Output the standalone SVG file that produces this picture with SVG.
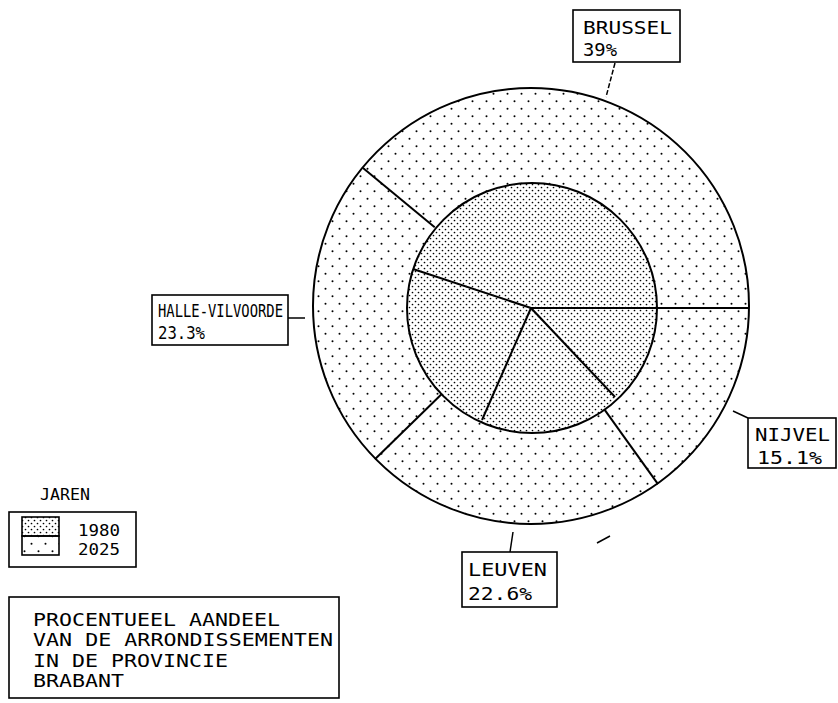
<svg xmlns="http://www.w3.org/2000/svg" width="838" height="703" viewBox="0 0 838 703">
<defs>
<pattern id="sparse" patternUnits="userSpaceOnUse" width="14" height="15">
<circle cx="3.5" cy="3.75" r="1"/>
<circle cx="10.5" cy="11.25" r="1"/>
</pattern>
<pattern id="dense" patternUnits="userSpaceOnUse" width="6" height="6">
<circle cx="1.5" cy="1.5" r="0.85"/>
<circle cx="4.5" cy="4.5" r="0.85"/>
</pattern>
</defs>
<style>
.t{font-family:"DejaVu Sans Mono","Liberation Mono",monospace;font-size:17px;fill:#000}
.box{fill:#fff;stroke:#000;stroke-width:1.6}
.edge{fill:none;stroke:#000;stroke-width:2}
.con{fill:none;stroke:#000;stroke-width:1.5}
</style>
<rect width="838" height="703" fill="#fff"/>
<g id="pie-2025">
<circle cx="531" cy="306" r="218" fill="url(#sparse)" stroke="#000" stroke-width="2"/>
<line class="edge" x1="434.7" y1="227.3" x2="363" y2="168"/>
<line class="edge" x1="441.5" y1="394.3" x2="374.9" y2="459.2"/>
<line class="edge" x1="603.8" y1="408.6" x2="658" y2="484.2"/>
<line class="edge" x1="531" y1="308" x2="749" y2="308"/>
</g>
<g id="pie-1980">
<circle cx="532" cy="308" r="125" fill="#fff" stroke="none"/>
<circle cx="532" cy="308" r="125" fill="url(#dense)" stroke="#000" stroke-width="2"/>
<line class="edge" x1="531" y1="308" x2="413" y2="269"/>
<line class="edge" x1="531" y1="308" x2="482" y2="420"/>
<line class="edge" x1="531" y1="308" x2="615" y2="397"/>
<line class="edge" x1="531" y1="308" x2="749" y2="308"/>
</g>
<g id="connectors">
<line class="con" x1="615" y1="63" x2="606" y2="97" stroke-dasharray="5 2"/>
<line class="con" x1="288" y1="318" x2="305" y2="318"/>
<line class="con" x1="733" y1="411" x2="748" y2="418"/>
<line class="con" x1="513" y1="532" x2="510" y2="552"/>
</g>
<line class="con" x1="597" y1="543" x2="610" y2="536"/>
<g id="label-brussel">
<rect class="box" x="573" y="10" width="107" height="52"/>
<text class="t" x="583" y="34" textLength="89" lengthAdjust="spacingAndGlyphs">BRUSSEL</text>
<text class="t" x="583" y="56" textLength="34" lengthAdjust="spacingAndGlyphs">39%</text>
</g>
<g id="label-halle">
<rect class="box" x="152" y="295" width="136" height="50"/>
<text class="t" x="158" y="317" textLength="125" lengthAdjust="spacingAndGlyphs">HALLE-VILVOORDE</text>
<text class="t" x="158" y="339" textLength="47" lengthAdjust="spacingAndGlyphs">23.3%</text>
</g>
<g id="label-nijvel">
<rect class="box" x="748" y="418" width="88" height="50"/>
<text class="t" x="755" y="441" textLength="75" lengthAdjust="spacingAndGlyphs">NIJVEL</text>
<text class="t" x="757" y="464" textLength="65" lengthAdjust="spacingAndGlyphs">15.1%</text>
</g>
<g id="label-leuven">
<rect class="box" x="462" y="552" width="95" height="55"/>
<text class="t" x="468" y="576" textLength="79" lengthAdjust="spacingAndGlyphs">LEUVEN</text>
<text class="t" x="468" y="600" textLength="64" lengthAdjust="spacingAndGlyphs">22.6%</text>
</g>
<g id="legend">
<text class="t" x="40" y="500" style="font-size:15px" textLength="50" lengthAdjust="spacingAndGlyphs">JAREN</text>
<rect class="box" x="9" y="512" width="127" height="55"/>
<rect x="22" y="517" width="37" height="19" fill="url(#dense)" stroke="#000" stroke-width="1.6"/>
<rect x="22" y="536" width="37" height="19" fill="url(#sparse)" stroke="#000" stroke-width="1.6"/>
<text class="t" x="78" y="536" style="font-size:16px" textLength="42" lengthAdjust="spacingAndGlyphs">1980</text>
<text class="t" x="78" y="555" style="font-size:16px" textLength="42" lengthAdjust="spacingAndGlyphs">2025</text>
</g>
<g id="title">
<rect class="box" x="9" y="597" width="330" height="101"/>
<text class="t" x="33" y="626" textLength="247" lengthAdjust="spacingAndGlyphs">PROCENTUEEL AANDEEL</text>
<text class="t" x="33" y="646" textLength="300" lengthAdjust="spacingAndGlyphs">VAN DE ARRONDISSEMENTEN</text>
<text class="t" x="33" y="667" textLength="195" lengthAdjust="spacingAndGlyphs">IN DE PROVINCIE</text>
<text class="t" x="33" y="687" textLength="91" lengthAdjust="spacingAndGlyphs">BRABANT</text>
</g>
</svg>
